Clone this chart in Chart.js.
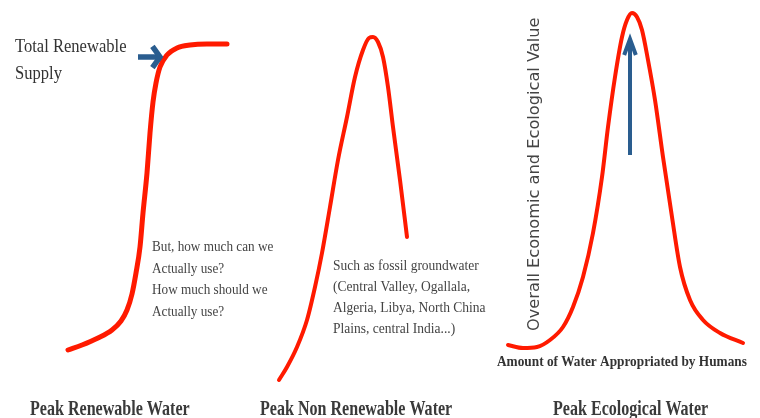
<!DOCTYPE html>
<html>
<head>
<meta charset="utf-8">
<script src="https://cdn.jsdelivr.net/npm/chart.js@4.4.0/dist/chart.umd.min.js"></script>
<style>
    html, body { margin: 0; padding: 0; background: #ffffff; }
    #wrap { width: 760px; height: 418px; position: relative; }
</style>
</head>
<body>
<div id="wrap"><canvas id="peakChart"></canvas></div>
<script>
// Curve samples (x = position along the slide, y = level)
const renewableX = [68, 82, 98, 112, 121, 127, 132, 136, 140, 143, 147, 150, 153, 156, 160, 167, 177, 190, 207, 227];
const renewableY = [68, 73, 80, 88, 97, 108, 124, 145, 171, 205, 245, 285, 316, 335, 351, 363, 370, 373, 374, 374];

const nonRenewableX = [279, 287, 297, 307, 315, 322, 330, 338, 347, 355, 363, 369, 373, 378, 383, 388, 393, 400, 407];
const nonRenewableY = [38, 51, 71, 98, 131, 165, 211, 258, 301, 341, 368, 380, 381, 376, 361, 331, 291, 238, 181];

const ecologicalX = [508, 523, 537, 550, 563, 573, 583, 593, 602, 608, 615, 622, 627, 632, 637, 642, 648, 655, 663, 672, 680, 690, 703, 720, 743];
const ecologicalY = [73, 70, 71, 78, 91, 111, 141, 185, 241, 291, 341, 381, 398, 405, 401, 388, 358, 318, 261, 201, 151, 118, 98, 85, 75];

const panelTitles = ['Peak Renewable Water', 'Peak Non Renewable Water', 'Peak Ecological Water'];

function toPoints(xs, ys) {
    return xs.map((x, i) => ({ x: x, y: ys[i] }));
}

function drawArrow(ctx, x1, y1, x2, y2, color, width, headLen, headAng) {
    const ang = Math.atan2(y2 - y1, x2 - x1);
    ctx.save();
    ctx.strokeStyle = color;
    ctx.lineWidth = width;
    ctx.beginPath();
    ctx.moveTo(x1, y1);
    ctx.lineTo(x2 - 3 * Math.cos(ang), y2 - 3 * Math.sin(ang));
    ctx.stroke();
    ctx.lineJoin = 'miter';
    ctx.beginPath();
    ctx.moveTo(x2 - headLen * Math.cos(ang - headAng), y2 - headLen * Math.sin(ang - headAng));
    ctx.lineTo(x2, y2);
    ctx.lineTo(x2 - headLen * Math.cos(ang + headAng), y2 - headLen * Math.sin(ang + headAng));
    ctx.stroke();
    ctx.restore();
}

// text squeezed/stretched horizontally to match the slide's typeface width
function drawText(ctx, text, x, y, sx) {
    ctx.save();
    ctx.translate(x, y);
    ctx.scale(sx, 1);
    ctx.fillText(text, 0, 0);
    ctx.restore();
}

// Labels, notes and arrows drawn on top of the curves
const notesPlugin = {
    id: 'notes',
    afterDatasetsDraw(chart) {
        const ctx = chart.ctx;
        const xs = chart.scales.x;
        const ys = chart.scales.y;

        drawArrow(ctx, xs.getPixelForValue(138), ys.getPixelForValue(361),
            xs.getPixelForValue(160), ys.getPixelForValue(361), '#2a5d8f', 5.5, 13, 0.95);
        drawArrow(ctx, xs.getPixelForValue(630), ys.getPixelForValue(263),
            xs.getPixelForValue(630), ys.getPixelForValue(379), '#2a5d8f', 4, 17, 0.35);

        ctx.save();
        ctx.textBaseline = 'alphabetic';
        ctx.textAlign = 'left';

        ctx.fillStyle = '#333333';
        ctx.font = '18px "Liberation Serif"';
        drawText(ctx, 'Total Renewable', 15, 52, 0.92);
        drawText(ctx, 'Supply', 15, 79, 0.92);

        ctx.fillStyle = '#444444';
        ctx.font = '15px "Liberation Serif"';
        ['But, how much can we', 'Actually use?', 'How much should we', 'Actually use?']
            .forEach((t, i) => drawText(ctx, t, 152, 251 + i * 21.5, 0.88));

        ['Such as fossil groundwater', '(Central Valley, Ogallala,', 'Algeria, Libya, North China', 'Plains, central India...)']
            .forEach((t, i) => drawText(ctx, t, 333, 270 + i * 21, 0.9));

        ctx.fillStyle = '#333333';
        ctx.font = 'bold 14px "Liberation Serif"';
        drawText(ctx, 'Amount of Water Appropriated by Humans', 497, 366, 0.95);

        // vertical axis label
        ctx.save();
        ctx.translate(539, 331);
        ctx.rotate(-Math.PI / 2);
        ctx.fillStyle = '#444444';
        ctx.font = '15px "DejaVu Sans"';
        drawText(ctx, 'Overall Economic and Ecological Value', 0, 0, 1.08);
        ctx.restore();

        // panel titles (tall, condensed)
        ctx.fillStyle = '#3a3a3a';
        ctx.font = 'bold 22px "Liberation Serif"';
        drawText(ctx, panelTitles[0], 30, 415, 0.73);
        drawText(ctx, panelTitles[1], 260, 415, 0.73);
        drawText(ctx, panelTitles[2], 553, 415, 0.73);
        ctx.restore();
    }
};

const lineStyle = {
    borderColor: '#ff1a00',
    pointRadius: 0,
    fill: false,
    cubicInterpolationMode: 'monotone',
    borderCapStyle: 'round',
    borderJoinStyle: 'round'
};

new Chart(document.getElementById('peakChart'), {
    type: 'line',
    data: {
        datasets: [
            Object.assign({ label: 'Renewable', data: toPoints(renewableX, renewableY), borderWidth: 5 }, lineStyle),
            Object.assign({ label: 'Non renewable', data: toPoints(nonRenewableX, nonRenewableY), borderWidth: 4 }, lineStyle),
            Object.assign({ label: 'Ecological', data: toPoints(ecologicalX, ecologicalY), borderWidth: 4 }, lineStyle)
        ]
    },
    options: {
        responsive: true,
        maintainAspectRatio: false,
        animation: false,
        layout: { padding: 0 },
        plugins: {
            legend: { display: false },
            tooltip: { enabled: false }
        },
        scales: {
            x: { type: 'linear', min: 0, max: 760, display: false },
            y: { type: 'linear', min: 0, max: 418, display: false }
        }
    },
    plugins: [notesPlugin]
});
</script>
</body>
</html>
